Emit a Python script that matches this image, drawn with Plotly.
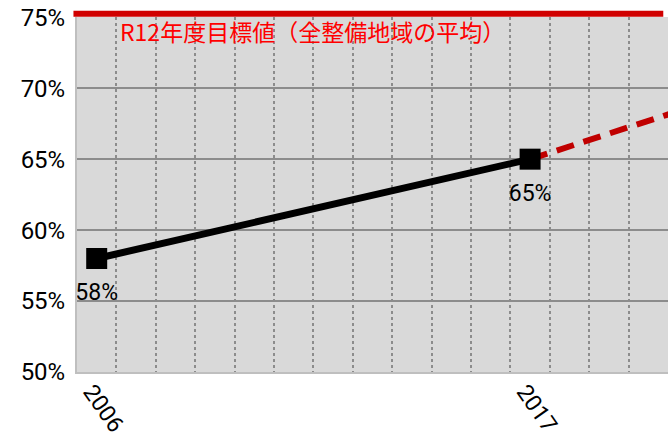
import plotly.graph_objects as go

years = [2006, 2017]
actual = [58, 65]
proj_years = [2017, 2021]
proj_values = [65, 68.6]
target_value = 75
target_label = "R12年度目標値（全整備地域の平均）"
year_range = [2005.5, 2020.5]
y_ticks = [50, 55, 60, 65, 70, 75]

FONT = "Noto Sans CJK JP, sans-serif"
NUM_FONT = "Roboto, Noto Sans, sans-serif"

fig = go.Figure()

fig.add_trace(go.Scatter(
    x=proj_years, y=proj_values, mode="lines",
    line=dict(color="#C00000", width=6, dash="18px,10px"),
    hoverinfo="skip", showlegend=False))

fig.add_trace(go.Scatter(
    x=years, y=actual, mode="lines+markers",
    line=dict(color="black", width=7),
    marker=dict(symbol="square", size=21, color="black"),
    showlegend=False, cliponaxis=False))

# value labels (invisible larger markers give the label offset)
fig.add_trace(go.Scatter(
    x=years, y=actual, mode="markers+text",
    marker=dict(symbol="square", size=37, color="rgba(0,0,0,0)"),
    text=[f"{v}%" for v in actual], textposition="bottom center",
    textfont=dict(family=NUM_FONT, size=23, color="black"),
    hoverinfo="skip", showlegend=False, cliponaxis=False))

# target line drawn at the top edge of the plot (75%)
fig.add_shape(type="line", xref="paper", yref="paper",
              x0=-0.006, x1=0.992, y0=1.009, y1=1.009,
              line=dict(color="#D00000", width=6))

fig.add_annotation(
    x=2006.55, y=74.0, xref="x", yref="y", text=target_label, showarrow=False,
    xanchor="left", yanchor="middle",
    font=dict(family=FONT, size=23, color="#FF0000"))

minor_vals = [y + 0.5 for y in range(2006, 2020)]

fig.update_layout(
    width=670, height=438,
    margin=dict(l=77, r=2, t=17, b=66),
    paper_bgcolor="white", plot_bgcolor="#D9D9D9",
    font=dict(family=NUM_FONT, size=22, color="black"),
    xaxis=dict(
        range=year_range, tickvals=years, ticktext=[str(y) for y in years],
        tickangle=55, showgrid=False, zeroline=False, automargin=False,
        showline=True, linecolor="#BFBFBF", linewidth=2,
        ticks="", tickfont=dict(family=NUM_FONT, size=23),
        ticklabelshift=-5, ticklabelstandoff=-5,
        minor=dict(tickvals=minor_vals, showgrid=True, gridcolor="#8C8C8C",
                   griddash="dot", gridwidth=2, ticks=""),
    ),
    yaxis=dict(
        range=[50, 75.02], tickvals=y_ticks, ticktext=[f"{v}%" for v in y_ticks],
        showgrid=True, gridcolor="#8C8C8C", gridwidth=2, zeroline=False,
        automargin=False, ticklabelstandoff=5,
        showline=True, linecolor="#BFBFBF", linewidth=2, ticks="",
        tickfont=dict(family=NUM_FONT, size=24),
    ),
)

fig.write_html("out.html", config={"displayModeBar": False},
               post_script="document.body.style.margin='0';")
